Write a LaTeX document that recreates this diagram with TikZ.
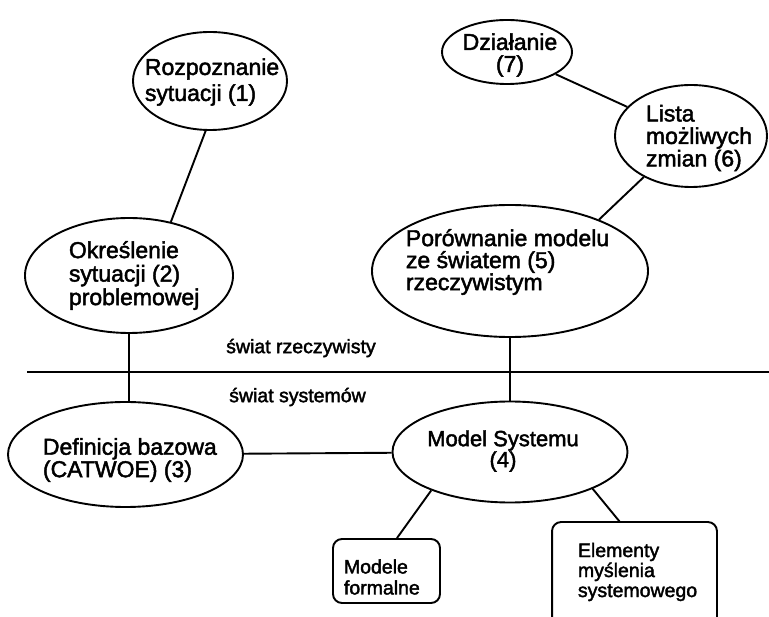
\documentclass[tikz,border=0pt]{standalone}
\usepackage{fontspec}
\setmainfont{Liberation Sans}[FakeBold=2]
\usetikzlibrary{shapes.geometric,calc}

\begin{document}
\begin{tikzpicture}[x=1pt,y=-1pt,line width=1.9pt,
  oval/.style={ellipse,draw,inner sep=0pt},
  txt/.style={inner sep=0pt,align=left,anchor=west},
  ctxt/.style={inner sep=0pt,align=center},
  lbl/.style={inner sep=0pt,font=\fontsize{19.5}{22}\selectfont},
  boxtxt/.style={inner sep=0pt,align=left,anchor=west},
  frame/.style={draw,rectangle,rounded corners=9pt,inner sep=0pt}]

\useasboundingbox (0,0) rectangle (769,617);

% ellipses of the soft-systems cycle
\node[oval,minimum width=154pt,minimum height=98pt]  (e1) at (210,81)    {};
\node[oval,minimum width=208pt,minimum height=115pt] (e2) at (129,275.5) {};
\node[oval,minimum width=235pt,minimum height=105pt] (e3) at (125.5,454.5) {};
\node[oval,minimum width=235pt,minimum height=101pt] (e4) at (510,452)   {};
\node[oval,minimum width=276pt,minimum height=132pt] (e5) at (510,271)   {};
\node[oval,minimum width=152pt,minimum height=102pt] (e6) at (691,136)   {};
\node[oval,minimum width=130pt,minimum height=64pt]  (e7) at (507,52)    {};

% their texts
\node[txt,font=\fontsize{23}{26}\selectfont]   (t1) at (144,82)    {Rozpoznanie\\sytuacji (1)};
\node[txt,font=\fontsize{23}{23.5}\selectfont] (t2) at (68,275.5)  {Określenie\\sytuacji (2)\\problemowej};
\node[txt,font=\fontsize{23}{21}\selectfont]   (t3) at (42,460)    {Definicja bazowa\\(CATWOE) (3)};
\node[ctxt,font=\fontsize{22}{21}\selectfont]  (t4) at (503,451)   {Model Systemu\\(4)};
\node[txt,font=\fontsize{23}{22}\selectfont]   (t5) at (405,262)   {Porównanie modelu\\ze światem (5)\\rzeczywistym};
\node[txt,font=\fontsize{23}{22.5}\selectfont] (t6) at (645,138)   {Lista\\możliwych\\zmian (6)};
\node[ctxt,font=\fontsize{23}{22}\selectfont]  (t7) at (510,55)    {Działanie\\(7)};

% the two worlds
\coordinate (divL) at (27,372);
\coordinate (divR) at (769,372);
\draw (divL) -- (divR);
\node[lbl] (real) at (301,348) {świat rzeczywisty};
\node[lbl] (sys)  at (297.5,397) {świat systemów};

% boxes under the system model
\node[frame,minimum width=107pt,minimum height=64pt] (modele) at (386.5,571) {};
\node[boxtxt,font=\fontsize{19.5}{21}\selectfont] (tm) at (343,577) {Modele\\formalne};
\node[rectangle,inner sep=0pt,minimum width=163pt,minimum height=94pt] (elem) at (634.5,570) {};
\draw[rounded corners=9pt] (elem.south west) -- (elem.north west) -- (elem.north east) -- (elem.south east);
\node[boxtxt,font=\fontsize{19.5}{20}\selectfont] (te) at (577,572) {Elementy\\myślenia\\systemowego};

% connectors
\draw (e1.265) -- (e2.52);
\draw (e2.south) -- (e2.south |- e3.north);
\draw (e3) -- (e4);
\draw (e5.south) -- (e5.south |- e4.north);
\draw (e6.221) -- (e5.30);
\draw (e7) -- (e6);
\draw (e4.206) -- ($(modele.north)+(10.5,0)$);
\draw (e4.336) -- ($(elem.north)+(-14.5,0)$);
\end{tikzpicture}
\end{document}
